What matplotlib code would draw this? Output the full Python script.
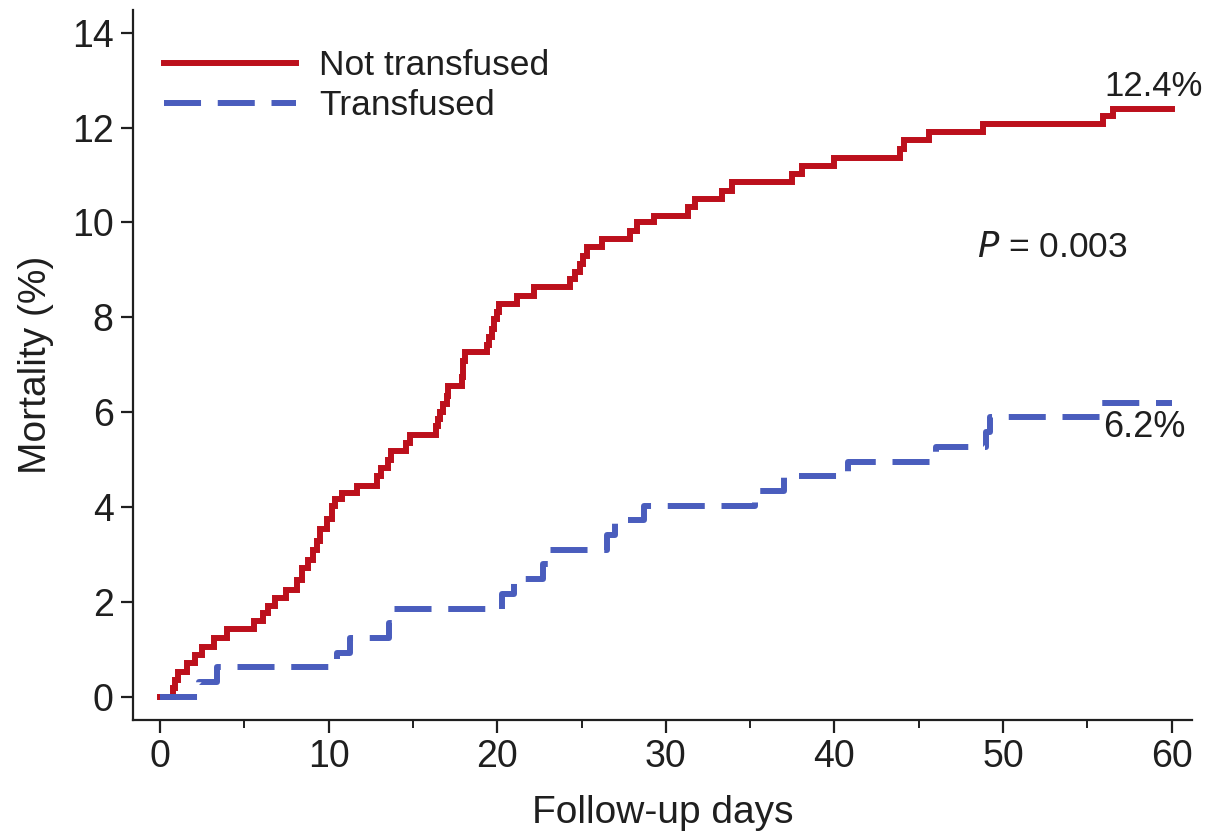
import matplotlib.pyplot as plt
from matplotlib.ticker import MultipleLocator

plt.rcParams['font.family'] = ['Liberation Sans', 'DejaVu Sans']

# cumulative mortality (%), step changes at each follow-up day
red_days = [0, 0.75, 0.9, 1.1, 1.6, 2.1, 2.5, 3.2, 4.0, 5.6, 6.1, 6.4, 6.8, 7.5,
            8.1, 8.4, 8.8, 9.1, 9.3, 9.5, 9.9, 10.2, 10.4, 10.8, 11.7, 12.9, 13.1,
            13.5, 13.7, 14.6, 14.8, 16.4, 16.5, 16.6, 16.8, 17.0, 17.1, 17.9, 17.95,
            18.0, 18.1, 19.4, 19.5, 19.7, 19.8, 20.0, 20.1, 21.2, 22.2, 24.3, 24.6,
            24.9, 25.1, 25.3, 26.2, 27.9, 28.3, 29.3, 31.3, 31.7, 33.3, 33.9, 37.5,
            38.1, 40.0, 43.9, 44.1, 45.6, 48.8, 55.9, 56.5, 60]
red_vals = [0, 0.18, 0.36, 0.53, 0.71, 0.88, 1.06, 1.24, 1.43, 1.59, 1.77, 1.91,
            2.09, 2.26, 2.47, 2.72, 2.89, 3.10, 3.28, 3.53, 3.74, 4.02, 4.16, 4.30,
            4.45, 4.65, 4.83, 5.00, 5.18, 5.35, 5.53, 5.70, 5.85, 6.00, 6.17, 6.34,
            6.55, 6.75, 6.90, 7.08, 7.26, 7.42, 7.58, 7.75, 7.96, 8.12, 8.28, 8.45,
            8.63, 8.80, 8.96, 9.12, 9.30, 9.48, 9.65, 9.83, 10.00, 10.14, 10.32,
            10.49, 10.67, 10.86, 11.02, 11.20, 11.37, 11.55, 11.73, 11.90, 12.08,
            12.24, 12.40, 12.40]

blue_days = [0, 2.3, 3.4, 10.5, 11.3, 13.6, 13.8, 20.3, 21.0, 22.7, 23.0, 26.5,
             27.0, 28.7, 35.3, 37.0, 40.8, 46.0, 49.0, 49.2, 55.8, 60]
blue_vals = [0, 0.31, 0.62, 0.93, 1.24, 1.55, 1.86, 2.17, 2.48, 2.79, 3.10, 3.41,
             3.72, 4.03, 4.34, 4.65, 4.96, 5.27, 5.58, 5.89, 6.20, 6.20]

red = '#BC101C'
blue = '#4A5DBD'
ink = '#1f1f1f'

fig = plt.figure(figsize=(12.13, 8.35), dpi=100)
ax = fig.add_axes([0.1096, 0.1377, 0.8731, 0.8503])

ax.step(red_days, red_vals, where='post', color=red, lw=4.3,
        solid_joinstyle='miter', label='Not transfused')
ax.step(blue_days, blue_vals, where='post', color=blue, lw=4.3,
        dashes=(6.2, 2.8), label='Transfused')

ax.set_xlim(-1.6, 61.2)
ax.set_ylim(-0.49, 14.48)
ax.xaxis.set_major_locator(MultipleLocator(10))
ax.xaxis.set_minor_locator(MultipleLocator(5))
ax.yaxis.set_major_locator(MultipleLocator(2))

for side in ['top', 'right']:
    ax.spines[side].set_visible(False)
for side in ['left', 'bottom']:
    ax.spines[side].set_linewidth(1.6)
    ax.spines[side].set_color(ink)

ax.tick_params(axis='both', which='major', length=9, width=1.6, labelsize=27,
               colors=ink, pad=5)
ax.tick_params(axis='x', which='minor', length=6, width=1.4, colors=ink)

ax.set_xlabel('Follow-up days', fontsize=28, color=ink, labelpad=14)
ax.set_ylabel('Mortality (%)', fontsize=28, color=ink, labelpad=13)

ax.text(58.9, 12.86, '12.4%', fontsize=25, color=ink, ha='center', va='center',
        clip_on=False)
ax.text(58.4, 5.68, '6.2%', fontsize=26, color=ink, ha='center', va='center',
        clip_on=False)
ax.text(52.9, 9.48, r'$\it{P}$ = 0.003', fontsize=25.5, color=ink, ha='center',
        va='center')

leg = ax.legend(loc='upper left', bbox_to_anchor=(0.029, 0.945), frameon=False,
                fontsize=25.5, handlelength=3.75, handletextpad=0.65,
                labelspacing=0.2, borderpad=0, borderaxespad=0)
for t in leg.get_texts():
    t.set_color(ink)

fig.savefig('out.png', dpi=100)
